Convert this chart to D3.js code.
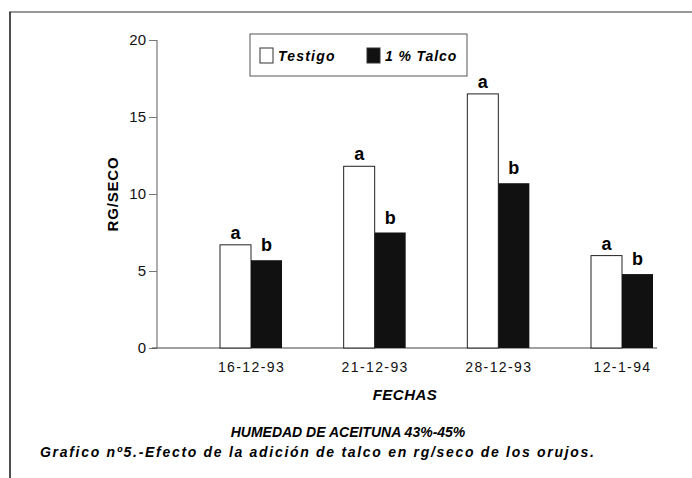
<!DOCTYPE html>
<html>
<head>
<meta charset="utf-8">
<script src="https://cdn.jsdelivr.net/npm/d3@7"></script>
<style>
  body { margin: 0; background: #fff; }
  svg { font-family: "Liberation Sans", Arial, sans-serif; }
</style>
</head>
<body>
<svg class="chart" width="692" height="478"></svg>
<script>
var fechas = ["16-12-93", "21-12-93", "28-12-93", "12-1-94"];
var testigo = [6.7, 11.8, 16.5, 6.0];
var talco = [5.7, 7.5, 10.7, 4.8];
var letrasTestigo = ["a", "a", "a", "a"];
var letrasTalco = ["b", "b", "b", "b"];
var yTicks = [0, 5, 10, 15, 20];
var series = ["Testigo", "1 % Talco"];

var svg = d3.select(".chart");

var axisX0 = 157, axisX1 = 657;

var yScale = d3.scaleLinear().domain([0, 20]).range([348, 40]);
var xScale = d3.scalePoint().domain(fechas).range([251, 622]);
var barW = 31;

// frame
svg.append("line").attr("x1", 9).attr("x2", 692).attr("y1", 12).attr("y2", 12)
    .attr("stroke", "#333").attr("stroke-width", 1.2);
svg.append("line").attr("x1", 10).attr("x2", 10).attr("y1", 12).attr("y2", 478)
    .attr("stroke", "#222").attr("stroke-width", 1.6);

// y axis
var yAxis = d3.axisLeft(yScale).tickValues(yTicks).tickSize(8).tickPadding(3);
var gy = svg.append("g").attr("transform", "translate(" + axisX0 + ",0)").call(yAxis);
gy.select(".domain").remove();
gy.selectAll(".tick line").attr("stroke", "#777");
gy.selectAll(".tick text").attr("font-size", 15).attr("fill", "#111")
    .attr("font-family", "Liberation Sans, Arial, sans-serif");
svg.append("line").attr("x1", axisX0).attr("x2", axisX0)
    .attr("y1", yScale(20)).attr("y2", yScale(0))
    .attr("stroke", "#777").attr("stroke-width", 1.2);

// x axis baseline
svg.append("line").attr("x1", axisX0 - 5).attr("x2", axisX1)
    .attr("y1", yScale(0)).attr("y2", yScale(0))
    .attr("stroke", "#444").attr("stroke-width", 1.2);

// x labels
var xAxis = d3.axisBottom(xScale).tickSize(0).tickPadding(14);
var gx = svg.append("g").attr("transform", "translate(0," + yScale(0) + ")").call(xAxis);
gx.select(".domain").remove();
gx.selectAll(".tick text").attr("font-size", 14).attr("fill", "#111")
    .attr("letter-spacing", 1.4)
    .attr("font-family", "Liberation Sans, Arial, sans-serif");

// bars
var groups = svg.selectAll(".grp").data(fechas).enter().append("g").attr("class", "grp");

groups.append("rect")
    .attr("x", function (d) { return xScale(d) - barW; })
    .attr("y", function (d, i) { return yScale(testigo[i]); })
    .attr("width", barW)
    .attr("height", function (d, i) { return yScale(0) - yScale(testigo[i]); })
    .attr("fill", "#fff").attr("stroke", "#222").attr("stroke-width", 1);

groups.append("rect")
    .attr("x", function (d) { return xScale(d); })
    .attr("y", function (d, i) { return yScale(talco[i]); })
    .attr("width", barW)
    .attr("height", function (d, i) { return yScale(0) - yScale(talco[i]); })
    .attr("fill", "#111");

groups.append("text")
    .attr("x", function (d) { return xScale(d) - barW / 2; })
    .attr("y", function (d, i) { return yScale(testigo[i]) - 6; })
    .attr("text-anchor", "middle").attr("font-size", 18).attr("font-weight", "bold")
    .text(function (d, i) { return letrasTestigo[i]; });

groups.append("text")
    .attr("x", function (d) { return xScale(d) + barW / 2; })
    .attr("y", function (d, i) { return yScale(talco[i]) - 9; })
    .attr("text-anchor", "middle").attr("font-size", 18).attr("font-weight", "bold")
    .text(function (d, i) { return letrasTalco[i]; });

// legend
var legend = svg.append("g");
legend.append("rect").attr("x", 250).attr("y", 34).attr("width", 217).attr("height", 42)
    .attr("fill", "#fff").attr("stroke", "#555").attr("stroke-width", 1);
var legX = [260, 367];
var legLs = [1.2, 0.9];
series.forEach(function (s, i) {
    legend.append("rect").attr("x", legX[i]).attr("y", 48).attr("width", 13).attr("height", 15)
        .attr("fill", i === 0 ? "#fff" : "#111").attr("stroke", "#333");
    legend.append("text").attr("x", legX[i] + 18).attr("y", 61)
        .attr("font-size", 14).attr("font-weight", "bold").attr("font-style", "italic")
        .attr("letter-spacing", legLs[i])
        .text(s);
});

// titles
svg.append("text").attr("transform", "translate(118,194) rotate(-90)")
    .attr("text-anchor", "middle").attr("font-size", 15).attr("font-weight", "bold")
    .attr("letter-spacing", 0.8)
    .text("RG/SECO");

svg.append("text").attr("x", 405).attr("y", 400).attr("text-anchor", "middle")
    .attr("font-size", 15).attr("font-weight", "bold").attr("font-style", "italic")
    .attr("letter-spacing", 0.5)
    .text("FECHAS");

svg.append("text").attr("x", 348).attr("y", 437).attr("text-anchor", "middle")
    .attr("font-size", 14).attr("font-weight", "bold").attr("font-style", "italic")
    .text("HUMEDAD DE ACEITUNA 43%-45%");

svg.append("text").attr("x", 40).attr("y", 457)
    .attr("font-size", 14).attr("font-weight", "bold").attr("font-style", "italic")
    .attr("letter-spacing", 1.7)
    .text("Grafico nº5.-Efecto de la adición de talco en rg/seco de los orujos.");
</script>
</body>
</html>
